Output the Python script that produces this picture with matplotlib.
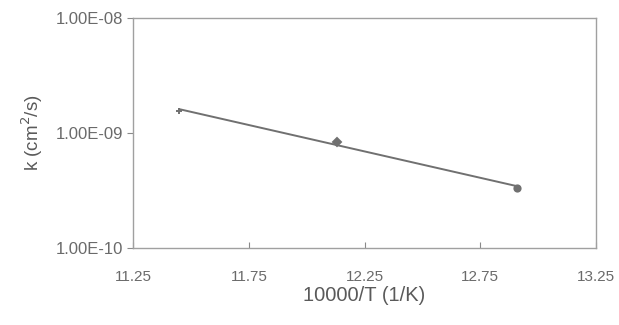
import matplotlib.pyplot as plt
import numpy as np
from matplotlib.ticker import FixedLocator, NullLocator

inv_t = [11.45, 12.13, 12.91]
k_vals = [1.55e-9, 8.4e-10, 3.33e-10]
markers = ["+", "D", "o"]
x_ticks = [11.25, 11.75, 12.25, 12.75, 13.25]
y_ticks = [1e-10, 1e-9, 1e-8]
y_labels = ["1.00E-10", "1.00E-09", "1.00E-08"]

plt.rcParams['font.family'] = ['Liberation Sans', 'DejaVu Sans']
grey = "#8a8a8a"
txt = "#6a6a6a"

fig = plt.figure(figsize=(6.19, 3.25), dpi=100)
ax = fig.add_axes([0.215, 0.237, 0.748, 0.708])

# exponential trendline through the points
coef = np.polyfit(inv_t, np.log10(k_vals), 1)
xs = np.array([inv_t[0], inv_t[-1]])
ax.plot(xs, 10 ** np.polyval(coef, xs), color="#707070", lw=1.4)
for x, y, m in zip(inv_t, k_vals, markers):
    ax.plot(x, y, marker=m, color="#707070", ms=4.5, mew=1.4, ls="none")

ax.set_yscale("log")
ax.set_xlim(11.25, 13.25)
ax.set_ylim(1e-10, 1e-8)
ax.xaxis.set_major_locator(FixedLocator(x_ticks))
ax.set_xticklabels([f"{t:.2f}" for t in x_ticks])
ax.yaxis.set_major_locator(FixedLocator(y_ticks))
ax.yaxis.set_minor_locator(NullLocator())
ax.set_yticklabels(y_labels)
ax.tick_params(axis="x", direction="in", length=4, color=grey, labelcolor=txt, labelsize=11, pad=16)
ax.tick_params(axis="y", direction="out", length=4, color=grey, labelcolor=txt, labelsize=12, pad=3)
for s in ax.spines.values():
    s.set_color("#a0a0a0")
    s.set_linestyle((0, (2, 1)))
    s.set_linewidth(1.0)

ax.set_xlabel("10000/T (1/K)", color="#5a5a5a", fontsize=14.5, labelpad=1)
ax.set_ylabel("k (cm$^2$/s)", color="#5a5a5a", fontsize=13.5, labelpad=8)

fig.savefig("out.png", dpi=100)
